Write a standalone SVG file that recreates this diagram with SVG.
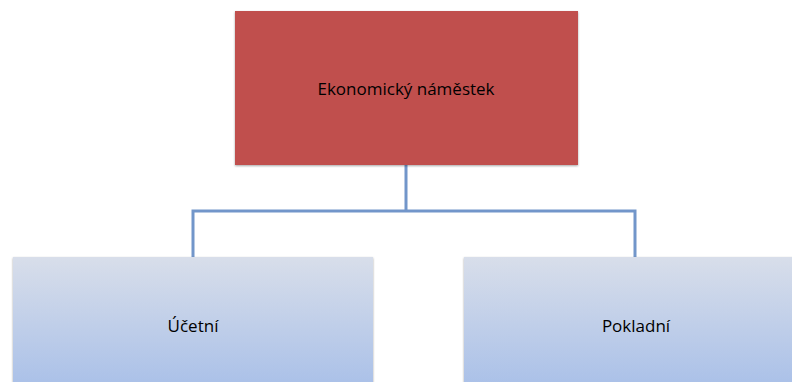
<svg xmlns="http://www.w3.org/2000/svg" width="792" height="382" viewBox="0 0 792 382">
<defs>
<linearGradient id="blueGrad" x1="0" y1="0" x2="0" y2="1">
<stop offset="0" stop-color="#D8DEEA"/>
<stop offset="1" stop-color="#A6BEE8"/>
</linearGradient>
<filter id="shadow" x="-5%" y="-5%" width="110%" height="110%">
<feDropShadow dx="0" dy="1" stdDeviation="1" flood-color="#000" flood-opacity="0.35"/>
</filter>
</defs>
<style>
.lbl{font-family:"Open Sans","Liberation Sans",sans-serif;font-size:17px;fill:#000;text-anchor:middle}
.conn{fill:none;stroke:#7296CA;stroke-width:3}
</style>
<rect width="792" height="382" fill="#fff"/>
<g id="connectors">
<path class="conn" d="M406 165 V211 M193 257 V211 H635 V257"/>
</g>
<g id="node-ekonom">
<rect x="235" y="11" width="343" height="154" fill="#C0504D" filter="url(#shadow)"/>
<text class="lbl" x="406" y="95">Ekonomický náměstek</text>
</g>
<g id="node-ucetni">
<rect x="13" y="257" width="360" height="140" fill="url(#blueGrad)" filter="url(#shadow)"/>
<text class="lbl" x="193" y="332">Účetní</text>
</g>
<g id="node-pokladni">
<rect x="464" y="257" width="340" height="140" fill="url(#blueGrad)" filter="url(#shadow)"/>
<text class="lbl" x="636" y="332">Pokladní</text>
</g>
</svg>
